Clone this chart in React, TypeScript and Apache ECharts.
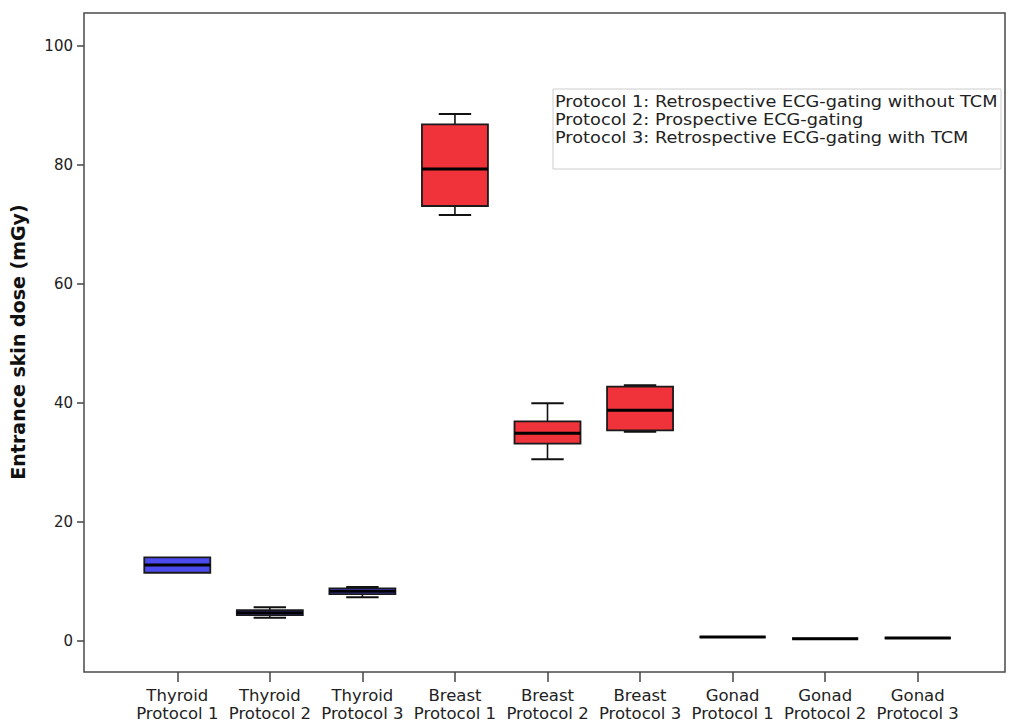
import React, { useEffect, useRef } from "react";
import * as echarts from "echarts";

const categories = [
  "Thyroid\nProtocol 1",
  "Thyroid\nProtocol 2",
  "Thyroid\nProtocol 3",
  "Breast\nProtocol 1",
  "Breast\nProtocol 2",
  "Breast\nProtocol 3",
  "Gonad\nProtocol 1",
  "Gonad\nProtocol 2",
  "Gonad\nProtocol 3",
];

// [min, Q1, median, Q3, max]
const thyroidStats = [
  [11.43, 11.43, 12.73, 14.02, 14.02],
  [3.87, 4.32, 4.71, 5.16, 5.62],
  [7.3, 7.85, 8.31, 8.81, 9.03],
];
const breastStats = [
  [71.58, 73.1, 79.32, 86.83, 88.57],
  [30.5, 33.13, 34.87, 36.89, 39.92],
  [35.14, 35.38, 38.74, 42.71, 42.95],
];
const gonadStats = [
  [0.62, 0.62, 0.62, 0.62, 0.62],
  [0.34, 0.34, 0.34, 0.34, 0.34],
  [0.45, 0.45, 0.45, 0.45, 0.45],
];

const yTicks = [0, 20, 40, 60, 80, 100];
const legendLines = [
  "Protocol 1: Retrospective ECG-gating without TCM",
  "Protocol 2: Prospective ECG-gating",
  "Protocol 3: Retrospective ECG-gating with TCM",
];
const yTitle = "Entrance skin dose (mGy)";

const BLUE = "#4c4cee";
const RED = "#f0323b";
const groupColors = [BLUE, BLUE, BLUE, RED, RED, RED, "#222222", "#222222", "#222222"];

const FONT = "DejaVu Sans";
const Y_MIN = -5.26;
const Y_MAX = 105.55;

export default function App() {
  const ref = useRef<HTMLDivElement>(null);

  useEffect(() => {
    if (!ref.current) return;
    const chart = echarts.init(ref.current, null, { renderer: "svg" });
    const allStats = [...thyroidStats, ...breastStats, ...gonadStats];
    const data = allStats.map((s, i) => [i, ...s]);

    const option: any = {
      animation: false,
      backgroundColor: "#ffffff",
      grid: [
        {
          left: 84,
          right: 5,
          top: 13,
          bottom: 52,
          show: true,
          borderColor: "#4a4a4a",
          borderWidth: 1.5,
          backgroundColor: "transparent",
        },
        { left: 131, right: 46, top: 13, bottom: 52 },
      ],
      xAxis: [
        { type: "value", gridIndex: 0, show: false, min: 0, max: 1 },
        {
          type: "category",
          gridIndex: 1,
          data: categories,
          position: "bottom",
          axisLine: { show: false, onZero: false },
          axisTick: {
            show: true,
            alignWithLabel: true,
            length: 10,
            lineStyle: { color: "#444", width: 1.5 },
          },
          axisLabel: {
            interval: 0,
            margin: 14,
            fontSize: 16.5,
            lineHeight: 18,
            color: "#222",
            fontFamily: FONT,
          },
          splitLine: { show: false },
        },
      ],
      yAxis: [
        {
          type: "value",
          gridIndex: 0,
          min: Y_MIN,
          max: Y_MAX,
          axisLine: { show: false },
          axisTick: {
            show: true,
            length: 7,
            customValues: yTicks,
            lineStyle: { color: "#444", width: 1.5 },
          },
          axisLabel: {
            customValues: yTicks,
            margin: 11,
            fontSize: 15,
            color: "#222",
            fontFamily: FONT,
          },
          splitLine: { show: false },
        },
        {
          type: "value",
          gridIndex: 1,
          min: Y_MIN,
          max: Y_MAX,
          show: false,
          splitLine: { show: false },
        },
      ],
      series: [
        {
          type: "custom",
          xAxisIndex: 1,
          yAxisIndex: 1,
          data,
          encode: { x: 0, y: [1, 2, 3, 4, 5] },
          renderItem: (params: any, api: any) => {
            const idx = api.value(0);
            const mn = api.value(1);
            const q1 = api.value(2);
            const md = api.value(3);
            const q3 = api.value(4);
            const mx = api.value(5);
            const band = api.size([1, 0])[0];
            const bw = band * 0.713;
            const cw = band * 0.35;
            const cx = api.coord([idx, md])[0];
            const py = (v: number) => api.coord([idx, v])[1];
            const color = groupColors[idx];
            const line = "#111";
            const children: any[] = [];
            if (mx > q3) {
              children.push({
                type: "line",
                shape: { x1: cx, y1: py(q3), x2: cx, y2: py(mx) },
                style: { stroke: line, lineWidth: 1.6 },
              });
              children.push({
                type: "line",
                shape: { x1: cx - cw / 2, y1: py(mx), x2: cx + cw / 2, y2: py(mx) },
                style: { stroke: line, lineWidth: 2 },
              });
            }
            if (mn < q1) {
              children.push({
                type: "line",
                shape: { x1: cx, y1: py(q1), x2: cx, y2: py(mn) },
                style: { stroke: line, lineWidth: 1.6 },
              });
              children.push({
                type: "line",
                shape: { x1: cx - cw / 2, y1: py(mn), x2: cx + cw / 2, y2: py(mn) },
                style: { stroke: line, lineWidth: 2 },
              });
            }
            const top = py(q3);
            const bot = py(q1);
            children.push({
              type: "rect",
              shape: { x: cx - bw / 2, y: top, width: bw, height: Math.max(bot - top, 0) },
              style: { fill: color, stroke: "#1a1a1a", lineWidth: 1.8 },
            });
            children.push({
              type: "line",
              shape: { x1: cx - bw / 2, y1: py(md), x2: cx + bw / 2, y2: py(md) },
              style: { stroke: "#000", lineWidth: 3 },
            });
            return { type: "group", children };
          },
        },
      ],
      graphic: [
        {
          type: "rect",
          shape: { x: 553, y: 89, width: 448, height: 80 },
          style: { fill: "#ffffff", stroke: "#cccccc", lineWidth: 1 },
          z: 10,
        },
        {
          type: "text",
          x: 555,
          y: 92.5,
          scaleX: 1.075,
          z: 11,
          style: {
            text: legendLines.join("\n"),
            fontSize: 16.5,
            lineHeight: 18,
            fontFamily: FONT,
            fill: "#222",
            align: "left",
            verticalAlign: "top",
          },
        },
        {
          type: "text",
          x: 18,
          y: 342,
          rotation: Math.PI / 2,
          style: {
            text: yTitle,
            fontSize: 19,
            fontWeight: "bold",
            fontFamily: FONT,
            fill: "#111",
            align: "center",
            verticalAlign: "middle",
          },
        },
      ],
    };

    chart.setOption(option);
    return () => chart.dispose();
  }, []);

  return (
    <div
      ref={ref}
      style={{ position: "absolute", left: 0, top: 0, width: 1010, height: 724 }}
    />
  );
}
